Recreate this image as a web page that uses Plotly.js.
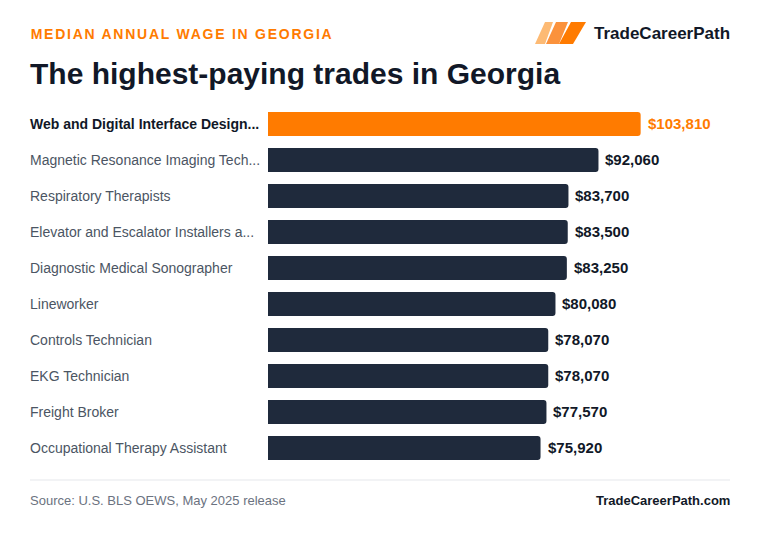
<!DOCTYPE html>
<html>
<head>
<meta charset="utf-8">
<script src="https://cdn.plot.ly/plotly-3.0.1.min.js"></script>
<style>
html,body{margin:0;padding:0;background:#fff;}
#chart{width:760px;height:536px;}
.annotation[data-index="0"] text{letter-spacing:1.75px;}
</style>
</head>
<body>
<div id="chart"></div>
<script>
// ---- data ----
var categories = [
  "Web and Digital Interface Design...",
  "Magnetic Resonance Imaging Tech...",
  "Respiratory Therapists",
  "Elevator and Escalator Installers a...",
  "Diagnostic Medical Sonographer",
  "Lineworker",
  "Controls Technician",
  "EKG Technician",
  "Freight Broker",
  "Occupational Therapy Assistant"
];
var wages = [103810, 92060, 83700, 83500, 83250, 80080, 78070, 78070, 77570, 75920];
var subtitle = "MEDIAN ANNUAL WAGE IN GEORGIA";
var titleText = "The highest-paying trades in Georgia";
var brand = "TradeCareerPath";
var sourceText = "Source: U.S. BLS OEWS, May 2025 release";
var siteText = "TradeCareerPath.com";

// ---- layout geometry ----
var W = 760, H = 536;
var L = 268, R = 30, T = 106, B = 70;
var PW = W - L - R, PH = H - T - B;
function px(x){ return (x - L) / PW; }
function py(y){ return (H - B - y) / PH; }

var ORANGE = "#ff7b00", NAVY = "#1f2a3c", DARK = "#111827", GRAY = "#4b5563";
var FONT = "Liberation Sans, Arial, sans-serif";

function fmt(v){ return "$" + v.toLocaleString("en-US"); }

var colors = wages.map(function(v,i){ return i === 0 ? ORANGE : NAVY; });

var trace = {
  type: "bar",
  orientation: "h",
  x: wages,
  y: categories,
  width: 0.667,
  marker: { color: colors, cornerradius: 3, line: { width: 0 } },
  hoverinfo: "none"
};

var annotations = [];
annotations.push({
  xref: "paper", yref: "paper", x: px(54), y: py(34),
  xanchor: "left", yanchor: "middle", showarrow: false,
  text: "<b>" + subtitle + "</b>",
  font: { family: FONT, size: 14, color: ORANGE }
});
annotations.push({
  xref: "paper", yref: "paper", x: px(592), y: py(33),
  xanchor: "left", yanchor: "middle", showarrow: false,
  text: "<b>" + brand + "</b>",
  font: { family: FONT, size: 17, color: DARK }
});
annotations.push({
  xref: "paper", yref: "paper", x: px(28), y: py(500),
  xanchor: "left", yanchor: "middle", showarrow: false,
  text: sourceText,
  font: { family: FONT, size: 13, color: "#6b7280" }
});
annotations.push({
  xref: "paper", yref: "paper", x: px(732), y: py(500),
  xanchor: "right", yanchor: "middle", showarrow: false,
  text: "<b>" + siteText + "</b>",
  font: { family: FONT, size: 13, color: DARK }
});
categories.forEach(function(c, i){
  annotations.push({
    xref: "paper", yref: "y", x: px(28), y: c,
    xanchor: "left", yanchor: "middle", showarrow: false,
    text: i === 0 ? "<b>" + c + "</b>" : c,
    font: { family: FONT, size: 14, color: i === 0 ? DARK : GRAY }
  });
  annotations.push({
    xref: "x", yref: "y", x: wages[i], y: c,
    xanchor: "left", yanchor: "middle", showarrow: false, xshift: 5, yshift: 1,
    text: "<b>" + fmt(wages[i]) + "</b>",
    font: { family: FONT, size: 15, color: i === 0 ? ORANGE : DARK }
  });
});

function para(x1b, x2b, x2t, x1t, yt, yb, col){
  return {
    type: "path", xref: "paper", yref: "paper", layer: "above",
    path: "M " + px(x1b) + " " + py(yb) + " L " + px(x2b) + " " + py(yb) +
          " L " + px(x2t) + " " + py(yt) + " L " + px(x1t) + " " + py(yt) + " Z",
    fillcolor: col, line: { width: 0 }
  };
}

var shapes = [
  para(535, 545, 553, 545, 22, 44, "#fdba74"),
  para(546, 559, 568, 556, 22, 44, "#fb923c"),
  para(559, 573, 586, 571, 22, 44, "#ff7b00"),
  { type: "line", xref: "paper", yref: "paper",
    x0: px(30), x1: px(730), y0: py(480), y1: py(480),
    line: { color: "#e5e7eb", width: 1 } }
];

var layout = {
  width: W, height: H,
  margin: { l: L, r: R, t: T, b: B, pad: 0 },
  paper_bgcolor: "#ffffff", plot_bgcolor: "#ffffff",
  font: { family: FONT },
  title: {
    text: "<b>" + titleText + "</b>",
    xref: "container", yref: "container",
    x: 30 / W, xanchor: "left",
    y: 1 - 73 / H, yanchor: "middle",
    font: { family: FONT, size: 30, color: DARK }
  },
  xaxis: { range: [0, 128700], visible: false, fixedrange: true },
  yaxis: { type: "category", categoryarray: categories, range: [9.5, -0.5],
           visible: false, fixedrange: true },
  showlegend: false,
  annotations: annotations,
  shapes: shapes
};

Plotly.newPlot("chart", [trace], layout, { displayModeBar: false, staticPlot: true });
</script>
</body>
</html>
